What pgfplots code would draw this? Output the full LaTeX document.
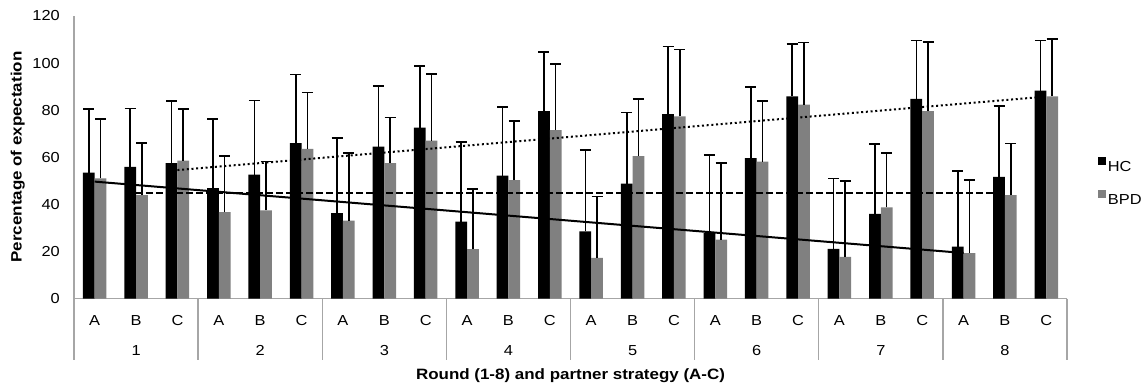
\documentclass[border=0pt]{standalone}
\usepackage{pgfplots}
\pgfplotsset{compat=1.18}
\usepackage{pgfplotstable}
\usepackage{fontspec}
\setmainfont{Liberation Sans}[FakeStretch=1.13]

\definecolor{bpdgray}{HTML}{808080}
\definecolor{axisgray}{HTML}{A6A6A6}

% Mean percentage of expectation and upper error per round/strategy
% x = 3*(round-1) + strategy index (A=0, B=1, C=2)
\pgfplotstableread{
x  hc   hcerr bpd  bpderr
0  53.5 27.0  51.1 25.2
1  56.0 24.8  44.0 22.0
2  57.5 26.3  58.6 21.8
3  46.9 29.5  36.7 23.9
4  52.7 31.4  37.5 20.8
5  66.0 29.1  63.6 24.0
6  36.3 31.8  33.1 28.8
7  64.5 25.8  57.5 19.5
8  72.6 26.3  67.1 28.3
9  32.7 33.8  21.0 25.6
10 52.2 29.2  50.3 25.2
11 79.6 25.0  71.6 27.9
12 28.6 34.4  17.3 26.0
13 48.8 30.2  60.5 24.3
14 78.4 28.6  77.4 28.3
15 27.8 33.3  25.1 32.4
16 59.7 30.1  58.2 25.7
17 85.9 22.1  82.4 26.3
18 21.1 30.0  17.8 32.1
19 36.0 29.7  38.8 23.1
20 84.8 24.8  79.6 29.4
21 22.1 32.0  19.3 31.1
22 51.7 30.0  44.0 21.8
23 88.3 21.3  85.9 24.3
}\expdata

\begin{document}
\begin{tikzpicture}[x=1pt,y=1pt]
\useasboundingbox (0,0) rectangle (1146,383);
\begin{axis}[
  at={(74pt,84.3pt)}, anchor=south west,
  scale only axis, width=993pt, height=282.7pt,
  xmin=-0.5, xmax=23.5, ymin=0, ymax=120,
  ybar=0pt, bar width=11.7pt,
  axis lines=left,
  axis line style={-, draw=axisgray, line width=1.4pt},
  ytick={0,20,...,120},
  xtick={0,...,23},
  xticklabels={A,B,C,A,B,C,A,B,C,A,B,C,A,B,C,A,B,C,A,B,C,A,B,C},
  major tick length=0pt,
  tick label style={font=\fontsize{14.5}{16}\selectfont},
  /pgf/number format/assume math mode=true,
  yticklabel style={anchor=east, inner sep=0pt, xshift=-14pt},
  xticklabel style={anchor=base, inner sep=0pt, yshift=-26.3pt},
  clip=false,
  legend cell align=left,
  legend style={at={(1.0312,0.501)}, anchor=north west, draw=none, fill=none,
    inner sep=0pt, font=\fontsize{14.5}{16}\selectfont, row sep=15pt,
    /tikz/every even column/.append style={column sep=3pt}},
]
\addplot[fill=black, draw=none,
  legend image code/.code={\fill[black] (0pt,2.2pt) rectangle (7.7pt,9.9pt);},
  error bars/.cd, y dir=plus, y explicit, error mark=|,
  error bar style={black, line width=1.6pt},
  error mark options={black, line width=1.6pt, mark size=5.5pt}]
  table[x=x, y=hc, y error=hcerr] {\expdata};
\addlegendentry{HC}
\addplot[fill=bpdgray, draw=none,
  legend image code/.code={\fill[bpdgray] (0pt,2.2pt) rectangle (7.7pt,9.9pt);},
  error bars/.cd, y dir=plus, y explicit, error mark=|,
  error bar style={black, line width=1.6pt},
  error mark options={black, line width=1.6pt, mark size=5.5pt}]
  table[x=x, y=bpd, y error=bpderr] {\expdata};
\addlegendentry{BPD}

% linear trends across rounds, one per partner strategy
\addplot[sharp plot, forget plot, black, line width=2pt]
  coordinates {(0,49.7) (21,19.4)};
\addplot[sharp plot, forget plot, black, line width=2pt, dash pattern=on 6.5pt off 3.5pt]
  coordinates {(1,44.8) (22,44.8)};
\addplot[sharp plot, forget plot, black, line width=2pt, dash pattern=on 2pt off 2.7pt]
  coordinates {(2,54.6) (23,85.8)};

% round separators and round numbers below the strategy labels
\pgfplotsinvokeforeach{0,...,8}{
  \draw[axisgray, line width=1.4pt] (axis cs:{3*#1-0.5},0) -- ++(0pt,-61.3pt);
}
\pgfplotsinvokeforeach{1,...,8}{
  \node[anchor=base, inner sep=0pt, font=\fontsize{14.5}{16}\selectfont]
    at (axis cs:{3*#1-2},0) [yshift=-56.3pt] {#1};
}
\end{axis}
\node[anchor=base, inner sep=0pt, font=\bfseries\fontsize{15}{17}\selectfont]
  at (570.5,4) {Round (1-8) and partner strategy (A-C)};
\node[rotate=90, anchor=base, inner sep=0pt, font=\bfseries\fontsize{15}{17}\selectfont]
  at (21.5,226) {Percentage of expectation};
\end{tikzpicture}
\end{document}
